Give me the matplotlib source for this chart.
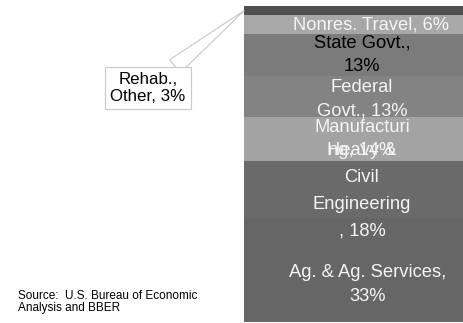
import numpy as np
import matplotlib
matplotlib.use("Agg")
import matplotlib.pyplot as plt

plt.rcParams['font.family'] = ['Liberation Sans', 'DejaVu Sans']

# bottom to top
sectors = ["Ag. & Ag. Services,\n33%", "Heavy &\nCivil\nEngineering\n, 18%",
           "Manufacturi\nng, 14%", "Federal\nGovt., 13%", "State Govt.,\n13%",
           "Nonres. Travel, 6%", "Rehab.,\nOther, 3%"]
shares = [33, 18, 14, 13, 13, 6, 3]
fills = ["#666666", "#6a6a6a", "#a3a3a3", "#838383", "#7b7b7b", "#a8a8a8", "#505050"]
text_cols = ["#f4f4f4", "#f4f4f4", "#f4f4f4", "#f4f4f4", "black", "#f4f4f4", None]
label_dy = [-4.5, -0.5, 0, -1, 0, 0, 0]
label_dx = [0.025, 0, 0, 0, 0, 0.04, 0]
spacing = [1.55, 1.75, 1.45, 1.45, 1.5, 1.45, 1.2]

fig = plt.figure(figsize=(4.64, 3.23), dpi=100)
ax = fig.add_axes([244 / 464, 1 / 323, 236 / 464, 316 / 323])
ax.set_xlim(0, 1)
ax.set_ylim(0, 100)
ax.axis("off")

bottoms = np.concatenate([[0], np.cumsum(shares)[:-1]])
ax.bar(0.5, shares, width=1, bottom=bottoms, color=fills, linewidth=0)

for i, (lab, s, b, tc) in enumerate(zip(sectors, shares, bottoms, text_cols)):
    if tc is None:
        continue
    ax.text(0.5 + label_dx[i], b + s / 2 + label_dy[i], lab, ha="center", va="center",
            color=tc, fontsize=13.2, linespacing=spacing[i])

# callout for the smallest slice
ax.annotate(sectors[-1], xy=(0.0, bottoms[-1] + shares[-1] / 2),
            xytext=(148 / 464, 1 - 88 / 323), textcoords="figure fraction",
            ha="center", va="center", fontsize=12.2, color="black", linespacing=spacing[-1],
            bbox=dict(boxstyle="square,pad=0.3", fc="white", ec="#c8c8c8", lw=0.8),
            arrowprops=dict(arrowstyle="wedge,tail_width=1.0,shrink_factor=0.5",
                            fc="white", ec="#c8c8c8", lw=0.8,
                            connectionstyle="arc3", shrinkA=0, shrinkB=0),
            annotation_clip=False)

fig.text(18 / 464, 1 - 302 / 323, "Source:  U.S. Bureau of Economic\nAnalysis and BBER",
         ha="left", va="center", fontsize=8.5, color="black", linespacing=1.1)

fig.savefig("out.png", dpi=100)
